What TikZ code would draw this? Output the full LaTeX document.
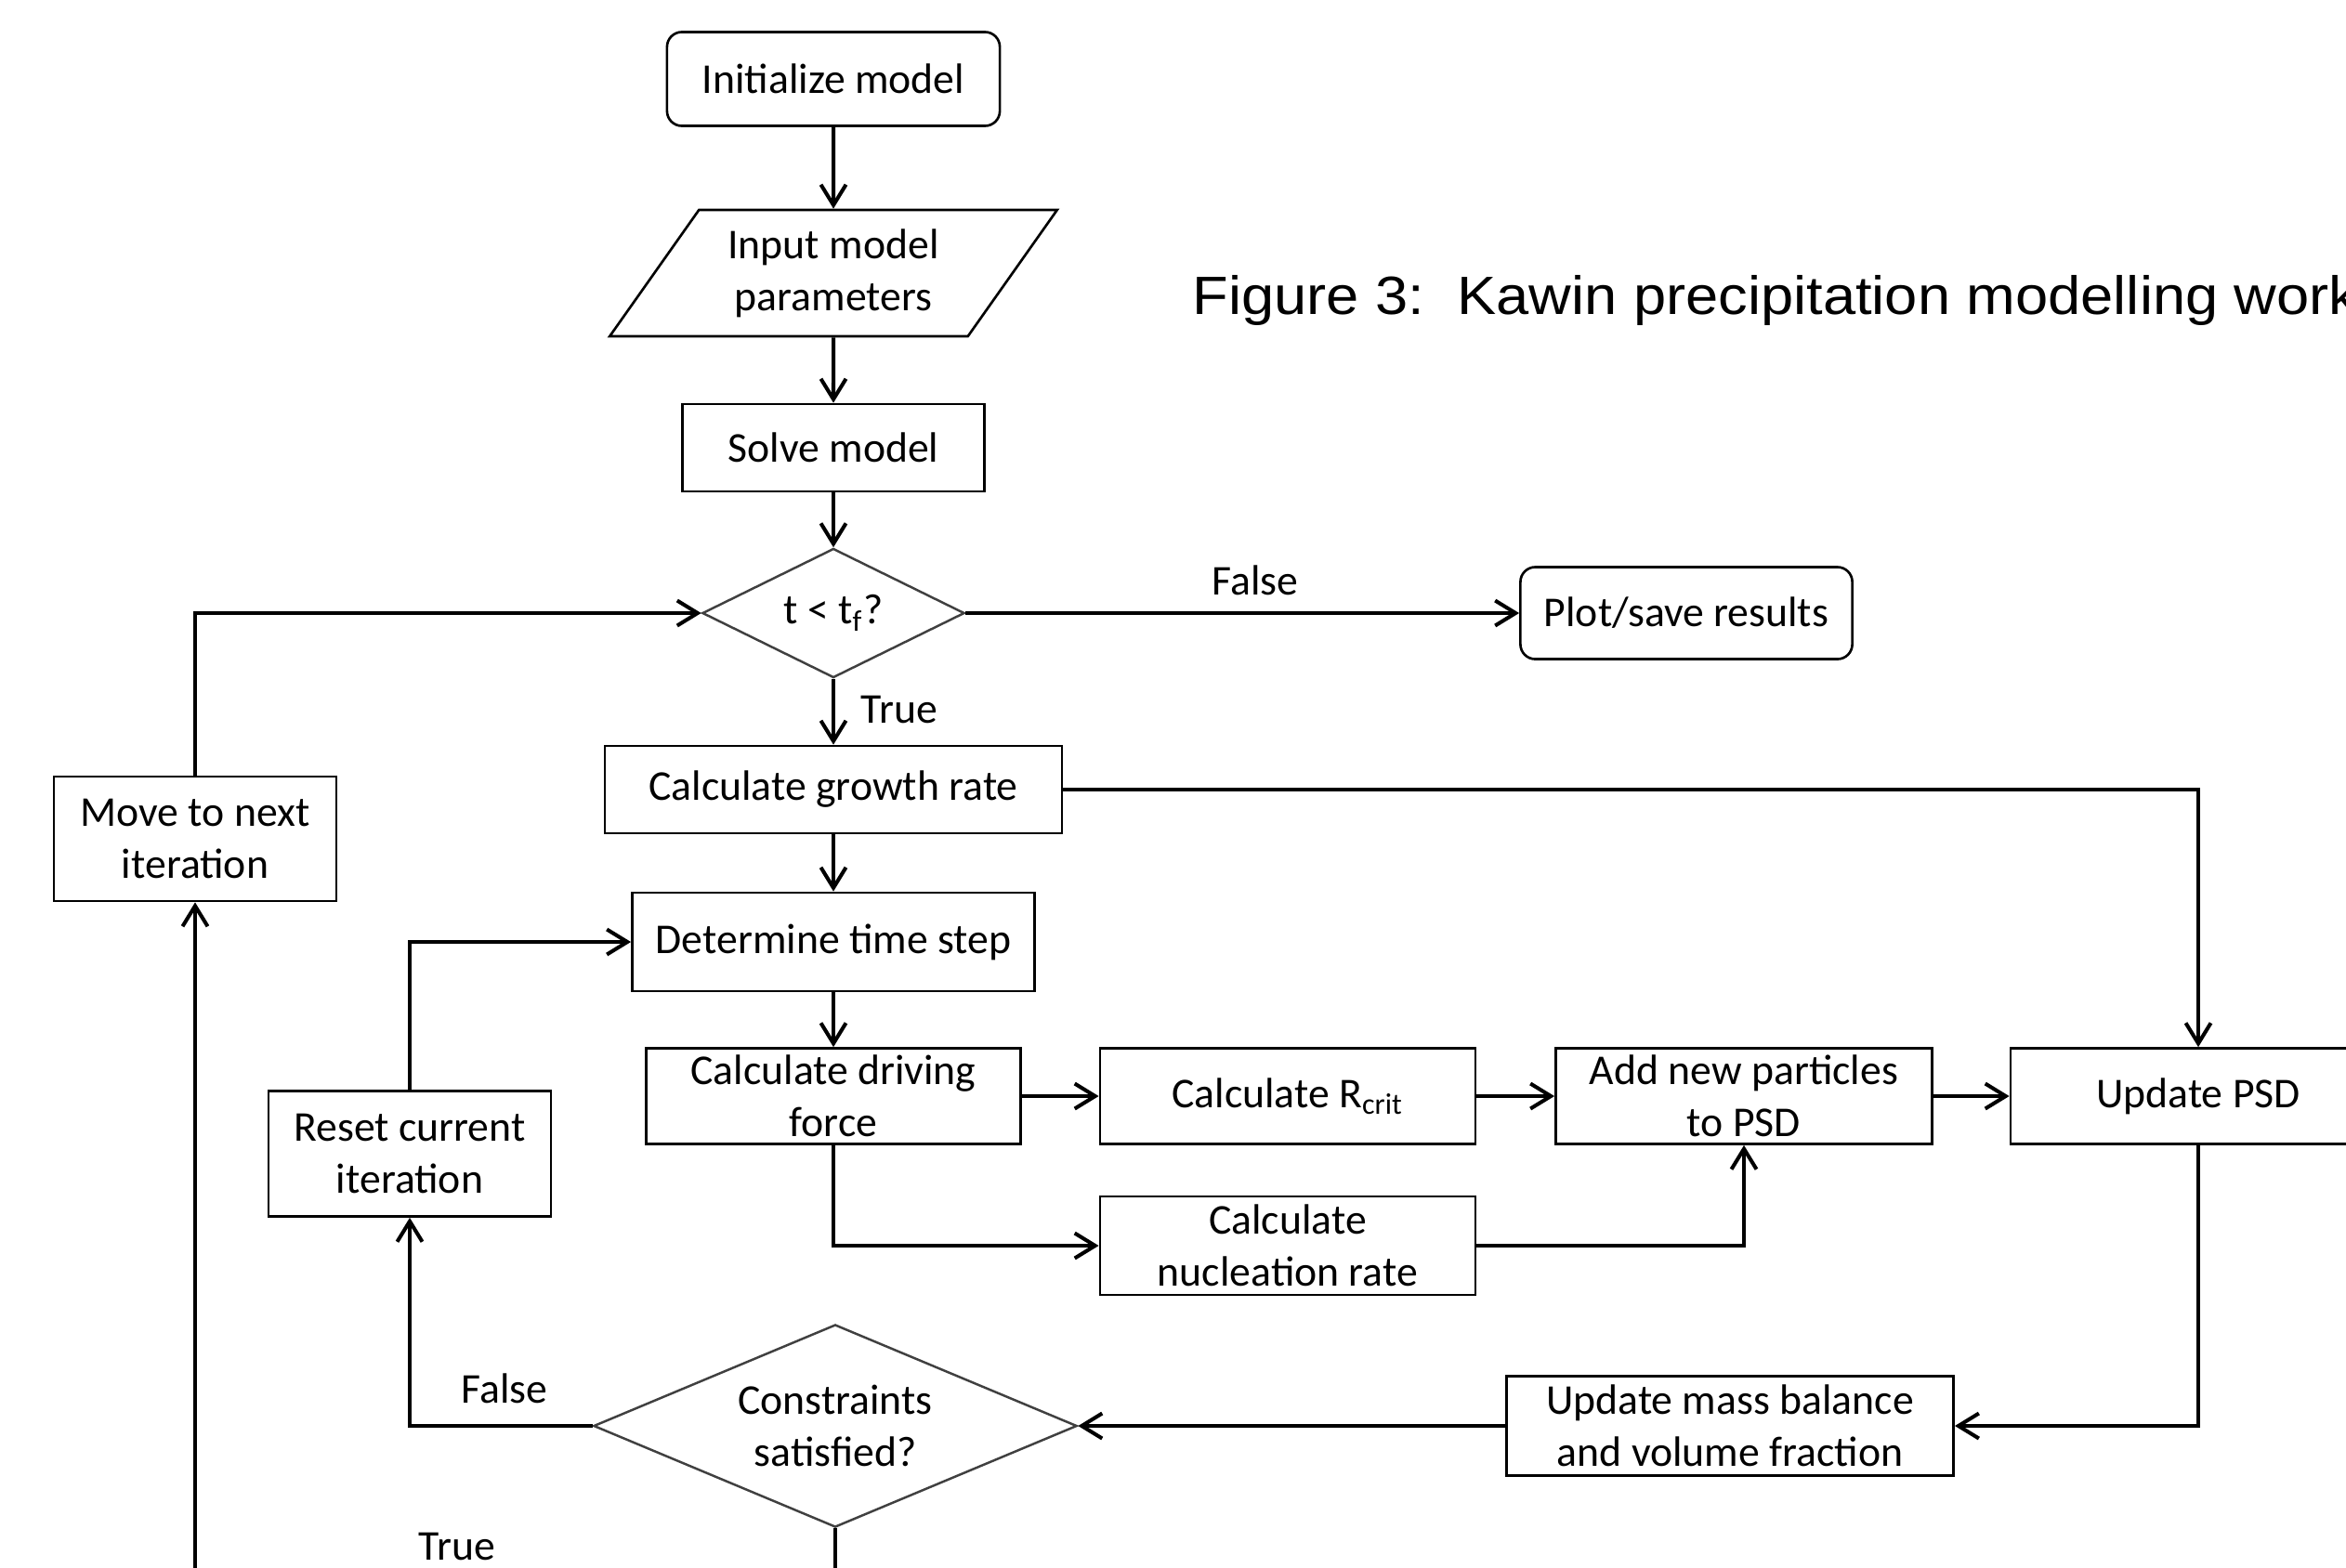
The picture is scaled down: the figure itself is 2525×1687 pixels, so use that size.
\documentclass[tikz,border=0pt]{standalone}
\usepackage{fontspec}
\setmainfont{Carlito}
\newfontfamily\capfont[FakeStretch=1.09]{Liberation Sans}
\usepackage{tikz}
\usetikzlibrary{arrows.meta,shapes.geometric}
\tikzset{
    procbox/.style={rectangle,draw,line width=0.75pt,align=center,inner sep=2pt},
    termbox/.style={procbox,rounded corners=0.16cm},
    iobox/.style={trapezium,draw,line width=0.75pt,align=center,
      trapezium left angle=55,trapezium right angle=125,trapezium stretches=true},
    decbox/.style={diamond,draw=black!75,line width=0.7pt,align=center,inner sep=0pt,aspect=2},
    flowline/.style={-{Straight Barb[length=0.22cm,width=0.27cm]},line width=1.15pt},
    lbl/.style={anchor=base west,inner sep=0pt},
}

\begin{document}
\begin{tikzpicture}[x=0.01cm,y=-0.01cm,font=\fontsize{13}{16}\selectfont]
\useasboundingbox (0,0) rectangle (2525,1687);
\fill[white] (0,0) rectangle (2525,1687);
\clip (0,0) rectangle (2525,1687);
 \node[termbox, minimum width=3.58cm, minimum height=1.01cm] (init) at (897,85) {Initialize model};
 \node[iobox, minimum width=4.82cm, minimum height=1.36cm] (input) at (897,294) {Input model\\parameters};
 \node[procbox, minimum width=3.25cm, minimum height=0.94cm] (solve) at (897,482) {Solve model};
 \node[decbox, minimum width=2.82cm, minimum height=1.39cm] (tcheck) at (897,660) {t < t\textsubscript{f}?};
 \node[termbox, minimum width=3.57cm, minimum height=0.99cm] (plot) at (1815,660) {Plot/save results};
 \node[procbox, minimum width=4.92cm, minimum height=0.94cm] (growth) at (897,850) {Calculate growth rate};
 \node[procbox, minimum width=3.04cm, minimum height=1.34cm] (next) at (210,903) {Move to next\\iteration};
 \node[procbox, minimum width=4.33cm, minimum height=1.06cm] (tstep) at (897,1014) {Determine time step};
 \node[procbox, minimum width=4.03cm, minimum height=1.03cm] (dforce) at (897,1180) {Calculate driving\\force};
 \node[procbox, minimum width=3.04cm, minimum height=1.35cm] (reset) at (441,1242) {Reset current\\iteration};
 \node[procbox, minimum width=4.04cm, minimum height=1.03cm] (rcrit) at (1386,1180) {Calculate R\textsubscript{crit}};
 \node[procbox, minimum width=4.05cm, minimum height=1.03cm] (addpart) at (1877,1180) {Add new particles\\to PSD};
 \node[procbox, minimum width=4.04cm, minimum height=1.03cm] (psd) at (2366,1180) {Update PSD};
 \node[procbox, minimum width=4.04cm, minimum height=1.06cm] (nucl) at (1386,1341) {Calculate\\nucleation rate};
 \node[procbox, minimum width=4.81cm, minimum height=1.07cm] (mass) at (1862,1535) {Update mass balance\\and volume fraction};
 \node[decbox, minimum width=5.2cm, minimum height=2.18cm] (ccheck) at (899,1535) {Constraints\\satisfied?};
 \node[anchor=base west, inner sep=0pt, font=\capfont\fontsize{16.5}{20}\selectfont] (caption) at (1283,338)
    {Figure 3:\ \ Kawin precipitation modelling workflow};
 % branch labels
 \node[lbl] (lfalse1) at (1304,640) {False};
 \node[lbl] (ltrue1) at (926,778) {True};
 \node[lbl] (lfalse2) at (496,1510) {False};
 \node[lbl] (ltrue2) at (450,1679) {True};
 % connectors
\draw[flowline] (init)--(input);
\draw[flowline] (input)--(solve);
\draw[flowline] (solve)--(tcheck);
\draw[flowline] (tcheck)--(plot);
\draw[flowline] (tcheck)--(growth);
\draw[flowline] (growth.east) -| (psd.north);
\draw[flowline] (growth)--(tstep);
\draw[flowline] (tstep)--(dforce);
\draw[flowline] (dforce)--(rcrit);
\draw[flowline] (dforce.south) |- (nucl.west);
\draw[flowline] (rcrit)--(addpart);
\draw[flowline] (addpart)--(psd);
\draw[flowline] (nucl.east) -| (addpart.south);
\draw[flowline] (psd.south) |- (mass.east);
\draw[flowline] (mass)--(ccheck);
\draw[flowline] (ccheck.west) -| (reset.south);
\draw[flowline] (reset.north) |- (tstep.west);
\draw[flowline] (ccheck.south) -- ++(0,130) -| (next.south);
\draw[flowline] (next.north) |- (tcheck.west);
\end{tikzpicture}
\end{document}
